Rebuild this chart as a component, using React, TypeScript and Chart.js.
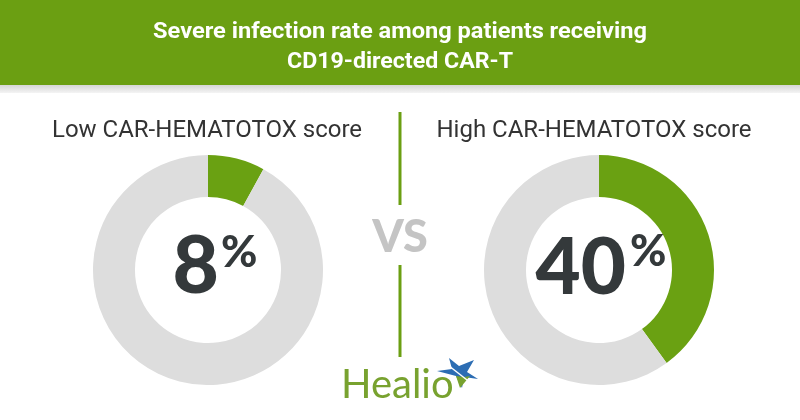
import React, { useEffect, useRef } from "react";
import { Chart, registerables } from "chart.js";

Chart.register(...registerables);

const titleLines = ["Severe infection rate among patients receiving", "CD19-directed CAR-T"];
const groups = ["Low CAR-HEMATOTOX score", "High CAR-HEMATOTOX score"];
const severeRates = [8, 40];
const otherRates = [92, 60];
const sliceLabels = ["Severe infection", "No severe infection"];

const GREEN = "#6b9f12";
const RING_GREEN = "#6aa112";
const RING_GRAY = "#dddddd";

function Donut({ index, left }: { index: number; left: number }) {
  const ref = useRef<HTMLCanvasElement | null>(null);
  useEffect(() => {
    if (!ref.current) return;
    const chart = new Chart(ref.current, {
      type: "doughnut",
      data: {
        labels: sliceLabels,
        datasets: [
          {
            data: [severeRates[index], otherRates[index]],
            backgroundColor: [RING_GREEN, RING_GRAY],
            borderWidth: 0,
            hoverOffset: 0,
          },
        ],
      },
      options: {
        responsive: false,
        animation: false,
        cutout: "63.5%",
        events: [],
        layout: { padding: 0 },
        plugins: { legend: { display: false }, tooltip: { enabled: false } },
      },
    });
    return () => chart.destroy();
  }, [index]);
  return (
    <canvas
      ref={ref}
      width={230}
      height={230}
      style={{ position: "absolute", left, top: 155, width: 230, height: 230 }}
    />
  );
}

export default function App() {
  const titleFont = "Roboto, sans-serif";
  const bigFont = "Lato, 'Open Sans', sans-serif";
  return (
    <div style={{ position: "fixed", left: 0, top: 0, width: 800, height: 420, background: "#ffffff", overflow: "hidden" }}>
      <Donut index={0} left={93} />
      <Donut index={1} left={484} />
      <svg width={800} height={420} style={{ position: "absolute", left: 0, top: 0, pointerEvents: "none" }}>
        <defs>
          <linearGradient id="stripe" x1="0" y1="0" x2="0" y2="1">
            <stop offset="0" stopColor="#d6d6d6" />
            <stop offset="1" stopColor="#f4f4f4" />
          </linearGradient>
        </defs>
        <rect x={0} y={0} width={800} height={85} fill={GREEN} />
        <rect x={0} y={85} width={800} height={8} fill="url(#stripe)" />
        <text x={153} y={38} textLength={494} lengthAdjust="spacingAndGlyphs" fill="#ffffff" fontFamily={titleFont} fontWeight={700} fontSize={22}>
          {titleLines[0]}
        </text>
        <text x={287} y={68} textLength={226} lengthAdjust="spacingAndGlyphs" fill="#ffffff" fontFamily={titleFont} fontWeight={700} fontSize={22}>
          {titleLines[1]}
        </text>

        <text x={207} y={137} textAnchor="middle" fill="#333333" fontFamily="Roboto, sans-serif" fontSize={24}>
          {groups[0]}
        </text>
        <text x={594} y={137} textAnchor="middle" fill="#333333" fontFamily="Roboto, sans-serif" fontSize={24}>
          {groups[1]}
        </text>

        <line x1={400} y1={112} x2={400} y2={205} stroke={GREEN} strokeWidth={3} />
        <line x1={400} y1={265} x2={400} y2={357} stroke={GREEN} strokeWidth={3} />
        <text x={400} y={252} textAnchor="middle" fill="#c4c4c4" fontFamily={bigFont} fontWeight={900} fontSize={45}>
          VS
        </text>

        <text x={219} y={293} textAnchor="end" fill="#34393b" fontFamily={bigFont} fontWeight={900} fontSize={80}>
          {severeRates[0]}
        </text>
        <text x={221} y={267} textAnchor="start" fill="#34393b" fontFamily={bigFont} fontWeight={900} fontSize={44}>
          %
        </text>
        <text x={626} y={294} textAnchor="end" fill="#34393b" fontFamily={bigFont} fontWeight={900} fontSize={78}>
          {severeRates[1]}
        </text>
        <text x={630} y={266} textAnchor="start" fill="#34393b" fontFamily={bigFont} fontWeight={900} fontSize={44}>
          %
        </text>

        <text x={341} y={398} textAnchor="start" fill="#78a22f" fontFamily="Lato, sans-serif" fontSize={40}>
          Healio
        </text>
        <polygon
          points="437,371 452,369 449,358 459,366 474,360 467,372 478,379 464,377 462,388 456,376"
          fill="#2c6db3"
        />
        <polygon points="456,376 464,377 470,376 460,388" fill="#78a22f" />
        <line x1={444} y1={362} x2={476} y2={387} stroke="#ffffff" strokeWidth={1.5} />
      </svg>
    </div>
  );
}
